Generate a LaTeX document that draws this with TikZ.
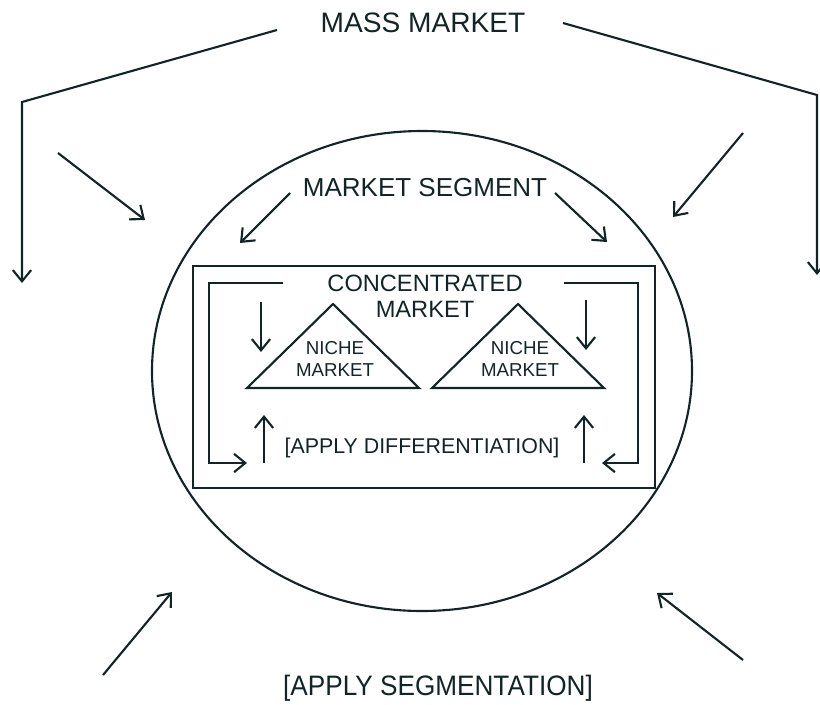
\documentclass[tikz,border=0pt]{standalone}
\usepackage{fontspec}
\setmainfont{Liberation Sans}
\usetikzlibrary{arrows.meta}
\definecolor{ink}{RGB}{18,36,40}
\tikzset{
  line/.style={draw=ink, line width=1.5pt},
  arr/.style={line, -{Straight Barb[length=8pt,width=13pt]}},
  lbl/.style={text=ink, inner sep=0pt, align=center},
}

\begin{document}
\begin{tikzpicture}[x=0.025cm, y=-0.025cm]
    \useasboundingbox (0,0) rectangle (820,704);
    % labels
    \node[lbl, font=\fontsize{20}{22}\selectfont] (mass) at (423,23) {MASS MARKET};
    \node[lbl, font=\fontsize{18.5}{20}\selectfont] (segment) at (425,188) {MARKET SEGMENT};
    \node[lbl, font=\fontsize{16.8}{18.5}\selectfont] (conc) at (425,296) {CONCENTRATED\\MARKET};
    \node[lbl, font=\fontsize{15.2}{17}\selectfont] (diff) at (422,448) {[APPLY DIFFERENTIATION]};
    \node[lbl, font=\fontsize{20}{22}\selectfont] (seg) at (438,688) {\scalebox{0.93}[1]{[APPLY SEGMENTATION]}};
    % mass market branches
    \draw[arr] (277,30) -- (22,102) -- (22,283);
    \draw[arr] (563,23) -- (817,95) -- (817,275);
    \draw[arr] (58,153) -- (145,220);
    \draw[arr] (743,133) -- (673,217);
    \draw[arr] (103,675) -- (172,592);
    \draw[arr] (743,660) -- (657,593);
    % segment circle
    \draw[line] (422,371) ellipse (270 and 240);
    \draw[arr] (290,193) -- (240,243);
    \draw[arr] (555,193) -- (607,242);
    % concentrated market box
    \draw[line] (193,266) rectangle (655,488);
    \draw[arr] (283,283) -- (209,283) -- (209,463) -- (247,463);
    \draw[arr] (564,283) -- (638,283) -- (638,463) -- (602,463);
    \draw[arr] (261,302) -- (261,352);
    \draw[arr] (586,300) -- (586,350);
    \draw[arr] (264,463) -- (264,415);
    \draw[arr] (584,463) -- (584,415);
    % niche triangles
    \foreach \cx/\nm in {333/nicheA, 518/nicheB} {
        \draw[line, line join=miter] (\cx,304) -- (\cx+86,388) -- (\cx-86,388) -- cycle;
        \node[lbl, font=\fontsize{13.3}{15}\selectfont] (\nm) at (\cx+2,359) {NICHE\\MARKET};
    }
\end{tikzpicture}
\end{document}
